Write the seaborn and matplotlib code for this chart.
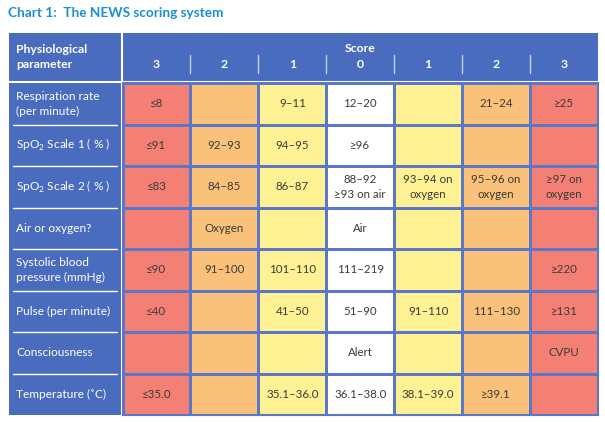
import numpy as np
import pandas as pd
import matplotlib
matplotlib.use("Agg")
import matplotlib.pyplot as plt
from matplotlib.colors import ListedColormap
from matplotlib.patches import Rectangle
import seaborn as sns

# --- data -------------------------------------------------------------
title = "Chart 1:  The NEWS scoring system"
parameters = [
    "Respiration rate\n(per minute)",
    r"SpO$_\mathregular{2}$ Scale 1 ( % )",
    r"SpO$_\mathregular{2}$ Scale 2 ( % )",
    "Air or oxygen?",
    "Systolic blood\npressure (mmHg)",
    "Pulse (per minute)",
    "Consciousness",
    "Temperature (˚C)",
]
scores = [3, 2, 1, 0, 1, 2, 3]
cells = [
    ["≤8", "", "9–11", "12–20", "", "21–24", "≥25"],
    ["≤91", "92–93", "94–95", "≥96", "", "", ""],
    ["≤83", "84–85", "86–87", "88–92\n≥93 on air", "93–94 on\noxygen", "95–96 on\noxygen", "≥97 on\noxygen"],
    ["", "Oxygen", "", "Air", "", "", ""],
    ["≤90", "91–100", "101–110", "111–219", "", "", "≥220"],
    ["≤40", "", "41–50", "51–90", "91–110", "111–130", "≥131"],
    ["", "", "", "Alert", "", "", "CVPU"],
    ["≤35.0", "", "35.1–36.0", "36.1–38.0", "38.1–39.0", "≥39.1", ""],
]

# --- style ------------------------------------------------------------
BLUE = "#4a6cbf"
GRID = "#5a78c7"
TITLE_C = "#1b8fd1"
score_colors = ["#ffffff", "#fef193", "#f9c179", "#f48075"]

sns.set_style("white")
plt.rcParams["font.family"] = ["Lato", "DejaVu Sans"]

W, H = 605, 422
fig = plt.figure(figsize=(W / 100, H / 100), dpi=100)

# background axes in pixel units for header / label column
bg = fig.add_axes([0, 0, 1, 1])
bg.set_xlim(0, W)
bg.set_ylim(H, 0)
bg.axis("off")

left, label_r, right = 9, 121.5, 598
top, head_b, bottom = 33, 81.5, 415
bg.add_patch(Rectangle((left, top), right - left, head_b - top, color=BLUE, lw=0))
bg.add_patch(Rectangle((left, top), label_r - left, bottom - top, color=BLUE, lw=0))
bg.plot([left, right], [head_b, head_b], color="white", lw=1.5)
bg.plot([label_r, label_r], [top, bottom], color="white", lw=1.5)

bg.text(left - 1, 13, title, color=TITLE_C, fontsize=9.8, fontweight="bold", va="center")
bg.text(16, 57, "Physiological\nparameter", color="white", fontsize=8.8,
        fontweight="bold", va="center", linespacing=1.35)

# --- score cells as heatmap ------------------------------------------
n_rows, n_cols = len(parameters), len(scores)
color_idx = pd.DataFrame(np.tile(scores, (n_rows, 1)))
annot = np.array(cells, dtype=object)

ax = fig.add_axes([122.5 / W, (H - bottom) / H, (right - 122.5) / W, (bottom - 83) / H])
sns.heatmap(color_idx, ax=ax, cmap=ListedColormap(score_colors), vmin=-0.5, vmax=3.5,
            cbar=False, annot=annot, fmt="", linewidths=2, linecolor=GRID,
            annot_kws={"fontsize": 8.3, "color": "#3a3a3a", "linespacing": 1.45})
ax.set_xticks([])
ax.set_yticks([])
for s in ax.spines.values():
    s.set_visible(True)
    s.set_color(GRID)
    s.set_linewidth(1.5)

# header: "Score" and column scores
col_w = (right - 122.5) / n_cols
bg.text(122.5 + col_w * n_cols / 2, 48, "Score", color="white", fontsize=8.8,
        fontweight="bold", ha="center", va="center")
for j, sc in enumerate(scores):
    cx = 122.5 + col_w * (j + 0.5)
    bg.text(cx, 65, str(sc), color="white", fontsize=8.8, fontweight="bold",
            ha="center", va="center")
    if j > 0:
        x = 122.5 + col_w * j
        bg.plot([x, x], [55, 73], color="#c9d2ea", lw=1)

# parameter labels and separators
row_h = (bottom - 83) / n_rows
for i, p in enumerate(parameters):
    cy = 83 + row_h * (i + 0.5)
    bg.text(16, cy, p, color="white", fontsize=8.6, va="center", linespacing=1.45)
    if i > 0:
        y = 83 + row_h * i
        bg.plot([13, 117], [y, y], color="white", lw=1)

fig.savefig("out.png", dpi=100)
